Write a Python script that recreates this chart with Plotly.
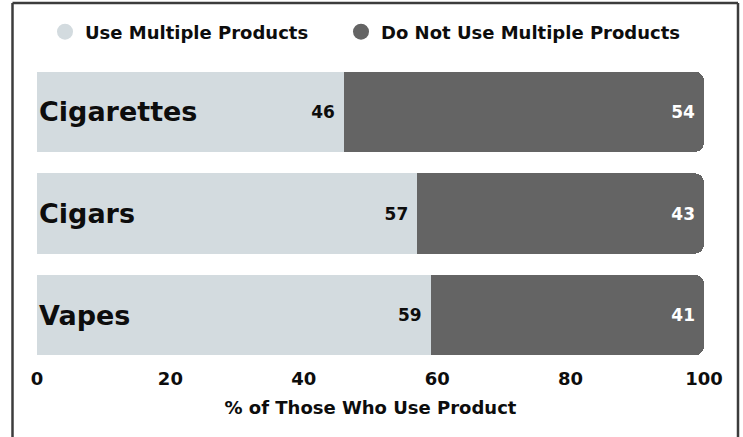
import plotly.graph_objects as go

categories = ["Cigarettes", "Cigars", "Vapes"]
use_multiple = [46, 57, 59]
not_multiple = [54, 43, 41]
series_names = ["Use Multiple Products", "Do Not Use Multiple Products"]
tick_vals = [0, 20, 40, 60, 80, 100]
x_title = "% of Those Who Use Product"

light = "#d3dbdf"
dark = "#646464"
ink = "#0d0d0d"
FONT = "DejaVu Sans"

W, H = 743, 437
ml, mr, mt, mb = 37, 39, 61, 71
pw, ph = W - ml - mr, H - mt - mb


def px2x(p):
    return (p - ml) / pw


def py2y(p):
    return 1 - (p - mt) / ph


fig = go.Figure()
fig.add_trace(go.Bar(
    y=categories, x=use_multiple, orientation="h", name=series_names[0],
    marker=dict(color=light, line=dict(width=0)),
    texttemplate="%{x}\u00a0", textposition="inside", insidetextanchor="end",
    textfont=dict(family=FONT, size=17, color=ink, weight="bold"),
    showlegend=False, hoverinfo="skip",
))
fig.add_trace(go.Bar(
    y=categories, x=not_multiple, orientation="h", name=series_names[1],
    marker=dict(color=dark, line=dict(width=0)),
    texttemplate="%{x}", textposition="inside", insidetextanchor="end",
    textfont=dict(family=FONT, size=17, color="white", weight="bold"),
    showlegend=False, hoverinfo="skip",
))
# legend entries with circle symbols, each in its own legend box
for name, col, lg in zip(series_names, [light, dark], ["legend", "legend2"]):
    fig.add_trace(go.Scatter(
        x=[None], y=[None], mode="markers", name=name, legend=lg,
        marker=dict(symbol="circle", size=19, color=col),
    ))

# category labels inside bars
for cat in categories:
    fig.add_annotation(
        x=0, y=cat, xref="x", yref="y", text=cat, showarrow=False,
        xanchor="left", yanchor="middle", xshift=0,
        font=dict(family=FONT, size=27, color=ink, weight="bold"),
    )

# outer frame (top, left, right)
frame = dict(color="#3c3c3c", width=2.5)
fig.add_shape(type="line", xref="paper", yref="paper",
              x0=px2x(12.5), x1=px2x(738), y0=py2y(3), y1=py2y(3), line=frame)
fig.add_shape(type="line", xref="paper", yref="paper",
              x0=px2x(12.5), x1=px2x(12.5), y0=py2y(3), y1=py2y(440), line=frame)
fig.add_shape(type="line", xref="paper", yref="paper",
              x0=px2x(738), x1=px2x(738), y0=py2y(3), y1=py2y(440), line=frame)

legend_common = dict(
    orientation="h", yanchor="middle", xanchor="left", y=py2y(32),
    font=dict(family=FONT, size=18, color=ink, weight="bold"),
    itemwidth=30, bgcolor="rgba(0,0,0,0)",
)

fig.update_layout(
    width=W, height=H,
    margin=dict(l=ml, r=mr, t=mt, b=mb),
    paper_bgcolor="white", plot_bgcolor="white",
    barmode="stack", bargap=0.21, barcornerradius=9,
    font=dict(family=FONT, color=ink),
    legend=dict(x=px2x(45), **legend_common),
    legend2=dict(x=px2x(341), **legend_common),
    xaxis=dict(
        range=[0, 100], tickvals=tick_vals, showgrid=False, zeroline=False,
        showline=False, ticks="", ticklabelstandoff=0,
        tickfont=dict(family=FONT, size=18, color=ink, weight="bold"),
        title=dict(text=x_title, standoff=13,
                   font=dict(family=FONT, size=18, color=ink, weight="bold")),
        fixedrange=True,
    ),
    yaxis=dict(
        autorange="reversed", showticklabels=False, showgrid=False,
        zeroline=False, showline=False, ticks="", fixedrange=True,
    ),
)

fig.write_html("out.html")
